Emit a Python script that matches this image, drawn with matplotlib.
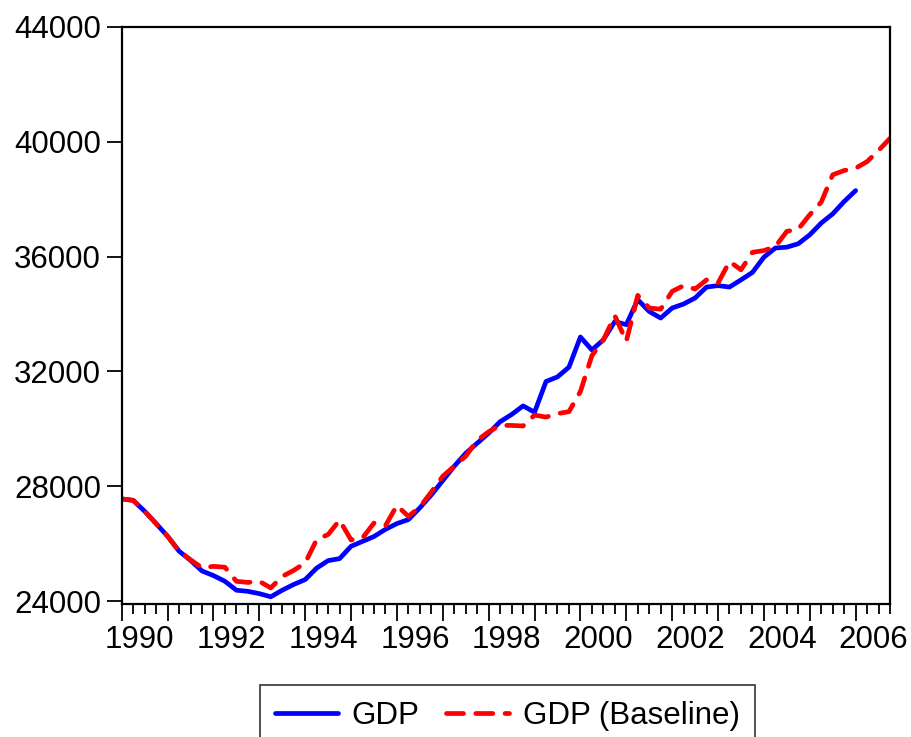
import numpy as np
import matplotlib
matplotlib.use("Agg")
import matplotlib.pyplot as plt
import matplotlib.transforms as mtransforms
from matplotlib.ticker import MultipleLocator, FixedLocator

plt.rcParams['font.family'] = ['Liberation Sans', 'DejaVu Sans']

# quarterly values, 1990Q1 onwards
gdp = [27560, 27510, 27130, 26700, 26260, 25740, 25420, 25050,
       24890, 24690, 24380, 24340, 24260, 24150, 24380, 24580,
       24750, 25150, 25410, 25480, 25910, 26080, 26250, 26500,
       26700, 26840, 27250, 27700, 28200, 28700, 29150, 29500,
       29850, 30250, 30500, 30800, 30580, 31650, 31810, 32150,
       33200, 32750, 33100, 33740, 33630, 34500, 34090, 33860,
       34210, 34350, 34560, 34940, 34990, 34940, 35190, 35450,
       35980, 36300, 36330, 36450, 36760, 37170, 37490, 37920,
       38300]
baseline = [27560, 27510, 27130, 26700, 26260, 25740, 25440, 25160,
            25210, 25180, 24690, 24650, 24690, 24460, 24860, 25070,
            25330, 26140, 26320, 26820, 26130, 26200, 26720, 26630,
            27330, 26950, 27280, 27800, 28350, 28700, 29050, 29600,
            29900, 30120, 30120, 30100, 30480, 30410, 30530, 30600,
            31300, 32550, 33100, 33940, 33050, 34650, 34210, 34170,
            34790, 34990, 34870, 35190, 35080, 35830, 35540, 36150,
            36210, 36350, 36880, 36960, 37460, 37900, 38850, 39000,
            39080, 39310, 39700, 40120]
start_year = 1990
year_labels = ['1990', '1992', '1994', '1996', '1998', '2000', '2002', '2004', '2006']
yticks = [24000, 28000, 32000, 36000, 40000, 44000]

x_gdp = start_year + np.arange(len(gdp)) / 4.0
x_base = start_year + np.arange(len(baseline)) / 4.0

fs = 22.5

fig = plt.figure(figsize=(9.11, 7.37), dpi=100)
ax = fig.add_axes([0.1336, 0.1805, 0.8434, 0.7829])

ax.plot(x_gdp, gdp, color='#0000FF', lw=3.4, solid_capstyle='round',
        solid_joinstyle='round', label='GDP')
ax.plot(x_base, baseline, color='#FF0000', lw=3.4, dashes=(3.6, 2.6),
        dash_capstyle='round', label='GDP (Baseline)')

ax.set_xlim(start_year, x_base[-1])
ax.set_ylim(23900, 44000)

ax.set_yticks(yticks)
ax.set_yticklabels([str(v) for v in yticks])

ax.xaxis.set_major_locator(MultipleLocator(1))
ax.xaxis.set_minor_locator(MultipleLocator(0.25))
ax.set_xticklabels([])
# year labels sit a bit to the right of the year tick
label_pos = [float(y) for y in year_labels]
sec = ax.secondary_xaxis('bottom')
sec.xaxis.set_major_locator(FixedLocator(label_pos))
sec.set_xticklabels(year_labels)
sec.tick_params(length=0, pad=15, labelsize=fs)
sec.spines['bottom'].set_visible(False)
off = mtransforms.ScaledTranslation(0.18, 0, fig.dpi_scale_trans)
for lab in sec.get_xticklabels():
    lab.set_transform(lab.get_transform() + off)

ax.tick_params(axis='x', which='major', direction='out', length=12, width=1.3)
ax.tick_params(axis='x', which='minor', direction='out', length=7, width=1.3)
ax.tick_params(axis='y', direction='out', length=11, width=1.3, labelsize=fs, pad=4)
ax.tick_params(top=False, right=False)

for sp in ax.spines.values():
    sp.set_linewidth(1.6)
    sp.set_color('black')

leg = fig.legend(loc='upper center', bbox_to_anchor=(0.557, 0.0706), ncol=2,
                 fontsize=fs, frameon=True, fancybox=False, handlelength=2.0,
                 handletextpad=0.45, columnspacing=0.85, borderpad=0.5,
                 borderaxespad=0, edgecolor='black')
leg.get_frame().set_linewidth(1.2)

fig.savefig('out.png', dpi=100)
